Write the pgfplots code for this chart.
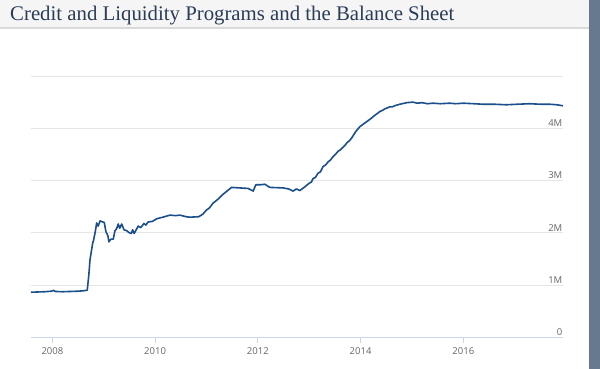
\documentclass[border=0pt]{standalone}
\usepackage{pgfplots}
\pgfplotsset{compat=1.18}
\usepackage{fontspec}
\setmainfont{Open Sans}
\newfontfamily\titlefont{Liberation Serif}
\definecolor{titlebg}{HTML}{F5F5F5}
\definecolor{titleline}{HTML}{D9D9D9}
\definecolor{sidebar}{HTML}{67798F}
\definecolor{titlecol}{HTML}{2A3C58}
\definecolor{linecol}{HTML}{1A4F8B}
\definecolor{gridcol}{HTML}{E6E6E6}
\definecolor{axiscol}{HTML}{CCD6EB}
\definecolor{labcol}{HTML}{666666}
\begin{document}
\begin{tikzpicture}
\useasboundingbox (0pt,0pt) rectangle (600pt,369pt);
\fill[white] (0pt,0pt) rectangle (600pt,369pt);
\fill[titlebg] (0pt,341pt) rectangle (589pt,369pt);
\draw[titleline, line width=1.5pt] (0pt,341pt) -- (589pt,341pt);
\fill[sidebar] (589pt,0pt) rectangle (600pt,369pt);
\node[anchor=base west, inner sep=0pt, text=titlecol, font=\titlefont\fontsize{20.8}{24}\selectfont] at (10pt,348pt) {Credit and Liquidity Programs and the Balance Sheet};
\begin{axis}[
  at={(31pt,31.5pt)}, anchor=south west,
  scale only axis, width=532pt, height=261.5pt,
  xmin=2007.584, xmax=2017.94, ymin=0, ymax=5,
  axis line style={draw=none},
  axis x line*=bottom,
  xtick={2008,2010,2012,2014,2016},
  xticklabels={2008,2010,2012,2014,2016},
  x tick style={axiscol, line width=0.8pt},
  major tick length=6pt, tick align=outside,
  xticklabel style={text=labcol, font=\fontsize{9.5}{11}\selectfont, yshift=-1pt},
  ytick={0,1,2,3,4,5},
  yticklabels={0,1M,2M,3M,4M,},
  y tick style={draw=none},
  yticklabel pos=right,
  yticklabel style={anchor=south east, text=labcol, font=\fontsize{9.5}{11}\selectfont, inner sep=1.5pt, xshift=-5pt},
  ymajorgrids, grid style={gridcol, line width=0.8pt},
  clip=false,
]
\draw[axiscol, line width=0.8pt] (axis cs:2007.584,0) -- (axis cs:2017.94,0);
\addplot[linecol, line width=1.6pt, line join=round, mark=none] coordinates {
(2007.584,0.865)
(2007.70,0.87)
(2007.85,0.875)
(2007.98,0.885)
(2008.02,0.90)
(2008.06,0.88)
(2008.20,0.875)
(2008.35,0.88)
(2008.50,0.885)
(2008.62,0.895)
(2008.679,0.905)
(2008.71,1.2)
(2008.732,1.48)
(2008.784,1.80)
(2008.80,1.85)
(2008.84,2.05)
(2008.862,2.19)
(2008.89,2.13)
(2008.93,2.23)
(2008.975,2.21)
(2009.01,2.20)
(2009.043,2.02)
(2009.08,1.95)
(2009.101,1.83)
(2009.140,1.88)
(2009.185,1.88)
(2009.218,2.04)
(2009.25,2.08)
(2009.282,2.17)
(2009.31,2.09)
(2009.35,2.17)
(2009.395,2.06)
(2009.45,2.04)
(2009.50,2.00)
(2009.54,1.99)
(2009.562,2.06)
(2009.593,1.99)
(2009.671,2.13)
(2009.72,2.10)
(2009.782,2.18)
(2009.82,2.15)
(2009.866,2.21)
(2009.95,2.22)
(2010.029,2.27)
(2010.15,2.30)
(2010.288,2.34)
(2010.40,2.33)
(2010.482,2.34)
(2010.60,2.31)
(2010.677,2.30)
(2010.852,2.31)
(2010.93,2.36)
(2011.002,2.44)
(2011.05,2.47)
(2011.130,2.57)
(2011.22,2.64)
(2011.30,2.72)
(2011.40,2.80)
(2011.488,2.87)
(2011.65,2.86)
(2011.811,2.85)
(2011.909,2.80)
(2011.961,2.92)
(2012.05,2.92)
(2012.136,2.93)
(2012.233,2.87)
(2012.492,2.86)
(2012.60,2.84)
(2012.687,2.80)
(2012.75,2.84)
(2012.817,2.81)
(2012.914,2.88)
(2013.00,2.95)
(2013.04,2.97)
(2013.076,3.04)
(2013.12,3.06)
(2013.17,3.14)
(2013.22,3.17)
(2013.270,3.27)
(2013.32,3.30)
(2013.37,3.36)
(2013.42,3.40)
(2013.465,3.46)
(2013.51,3.50)
(2013.56,3.56)
(2013.61,3.59)
(2013.660,3.64)
(2013.70,3.68)
(2013.74,3.73)
(2013.78,3.76)
(2013.823,3.81)
(2013.90,3.93)
(2013.984,4.03)
(2014.08,4.10)
(2014.179,4.17)
(2014.28,4.25)
(2014.374,4.32)
(2014.42,4.34)
(2014.47,4.37)
(2014.568,4.41)
(2014.62,4.41)
(2014.66,4.43)
(2014.763,4.46)
(2014.90,4.49)
(2015.021,4.50)
(2015.10,4.48)
(2015.20,4.49)
(2015.30,4.47)
(2015.410,4.48)
(2015.55,4.47)
(2015.735,4.48)
(2015.85,4.47)
(2016.00,4.48)
(2016.20,4.47)
(2016.383,4.46)
(2016.60,4.46)
(2016.840,4.45)
(2017.05,4.46)
(2017.292,4.47)
(2017.50,4.46)
(2017.681,4.46)
(2017.82,4.45)
(2017.940,4.43)
};
\end{axis}
\end{tikzpicture}
\end{document}
